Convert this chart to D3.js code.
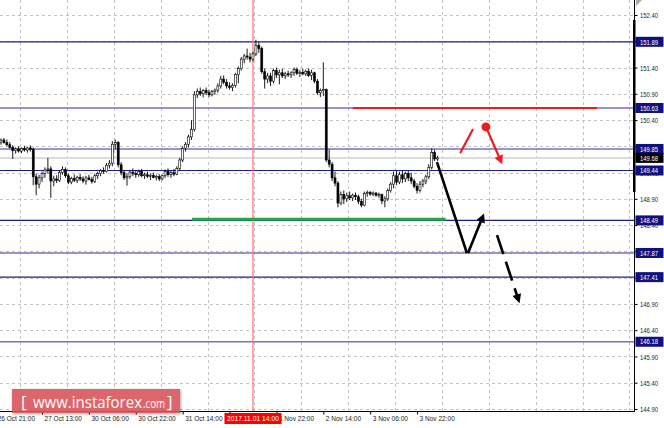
<!DOCTYPE html>
<html><head><meta charset="utf-8">
<script src="https://cdn.jsdelivr.net/npm/d3@7"></script>
<style>html,body{margin:0;padding:0;background:#fff;overflow:hidden}</style>
</head><body><svg id="c" width="664" height="428"></svg>
<script>
// ---------- DATA ----------
const opens = [149.98,150.02,149.97,149.93,149.88,149.82,149.85,149.81,149.86,149.83,
149.87,149.84,149.32,149.18,149.30,149.38,149.45,149.47,149.24,149.28,
149.25,149.40,149.46,149.34,149.22,149.29,149.25,149.31,149.28,149.24,
149.30,149.27,149.23,149.34,149.38,149.44,149.42,149.54,149.58,149.94,
149.97,149.55,149.40,149.30,149.33,149.41,149.38,149.36,149.42,149.34,
149.36,149.33,149.35,149.31,149.33,149.28,149.34,149.42,149.36,149.40,
149.37,149.48,149.64,149.86,149.94,150.08,150.22,150.88,150.94,150.90,
150.96,150.92,150.88,150.94,150.97,151.05,151.18,151.12,151.05,151.02,
151.06,151.27,151.38,151.56,151.62,151.60,151.56,151.66,151.82,151.76,
151.32,151.18,151.24,151.14,151.34,151.26,151.30,151.24,151.28,151.26,
151.30,151.36,151.29,151.31,151.28,151.33,151.25,151.30,151.14,150.92,
150.96,150.98,149.64,149.56,149.30,149.20,148.82,148.98,148.90,148.96,
148.92,148.97,148.94,148.85,148.78,149.00,149.02,148.99,149.01,148.97,
148.98,148.86,148.90,149.06,149.18,149.34,149.22,149.36,149.28,149.38,
149.30,149.24,149.14,149.06,149.18,149.24,149.32,149.50,149.78,149.66];
const highs = [150.05,150.06,150.03,149.98,149.92,149.88,149.90,149.88,149.91,149.89,
149.92,149.88,149.38,149.36,149.42,149.50,149.68,149.52,149.34,149.35,
149.45,149.52,149.50,149.38,149.32,149.36,149.34,149.37,149.33,149.34,
149.36,149.32,149.38,149.42,149.47,149.50,149.58,149.64,150.00,150.03,
150.00,149.60,149.45,149.38,149.45,149.48,149.44,149.46,149.47,149.40,
149.42,149.38,149.40,149.36,149.37,149.36,149.46,149.48,149.44,149.47,
149.52,149.68,149.90,149.98,150.12,150.40,150.95,151.00,151.02,150.99,
151.02,150.98,150.97,151.00,151.10,151.24,151.25,151.18,151.12,151.10,
151.30,151.42,151.60,151.66,151.76,151.68,151.70,151.93,151.88,151.80,
151.38,151.30,151.30,151.38,151.40,151.36,151.38,151.32,151.34,151.33,
151.40,151.40,151.35,151.38,151.36,151.38,151.36,151.32,151.18,151.00,
151.50,151.00,149.84,149.60,149.42,149.24,149.04,149.06,149.02,149.04,
149.00,149.02,148.98,148.90,149.04,149.06,149.05,149.04,149.03,149.02,
149.00,148.95,149.10,149.22,149.42,149.44,149.42,149.44,149.42,149.44,
149.40,149.28,149.20,149.24,149.28,149.36,149.56,149.86,149.84,149.72];
const lows = [149.93,149.95,149.90,149.86,149.66,149.76,149.78,149.77,149.80,149.78,
149.80,149.16,148.97,149.10,149.22,149.30,149.38,148.92,149.14,149.20,
149.22,149.36,149.30,149.18,149.18,149.22,149.20,149.24,149.20,149.17,
149.25,149.19,149.20,149.28,149.33,149.38,149.40,149.48,149.52,149.85,
149.50,149.35,149.26,149.15,149.28,149.33,149.30,149.32,149.31,149.28,
149.30,149.26,149.29,149.25,149.24,149.25,149.30,149.32,149.30,149.33,
149.35,149.44,149.60,149.80,149.88,150.02,150.18,150.82,150.86,150.83,
150.88,150.84,150.85,150.88,150.92,151.00,151.08,151.00,150.98,150.95,
151.02,151.10,151.34,151.48,151.55,151.50,151.52,151.62,151.68,151.28,
151.00,151.10,151.05,151.10,151.20,151.08,151.20,151.18,151.22,151.20,
151.24,151.26,151.22,151.25,151.24,151.22,151.16,151.10,150.88,150.84,
150.86,149.60,149.50,149.24,149.14,148.74,148.78,148.80,148.84,148.88,
148.86,148.88,148.80,148.74,148.76,148.94,148.96,148.95,148.94,148.92,
148.80,148.74,148.86,149.02,149.10,149.16,149.18,149.20,149.22,149.24,
149.18,149.10,149.00,149.02,149.12,149.18,149.28,149.46,149.62,149.62];
const closes = [150.02,149.97,149.93,149.88,149.82,149.85,149.81,149.86,149.83,149.87,
149.84,149.32,149.18,149.30,149.38,149.45,149.47,149.24,149.28,149.25,
149.40,149.46,149.34,149.22,149.29,149.25,149.31,149.28,149.24,149.30,
149.27,149.23,149.34,149.38,149.44,149.42,149.54,149.58,149.94,149.97,
149.55,149.40,149.30,149.33,149.41,149.38,149.36,149.42,149.34,149.36,
149.33,149.35,149.31,149.33,149.28,149.34,149.42,149.36,149.40,149.37,
149.48,149.64,149.86,149.94,150.08,150.22,150.88,150.94,150.90,150.96,
150.92,150.88,150.94,150.97,151.05,151.18,151.12,151.05,151.02,151.06,
151.27,151.38,151.56,151.62,151.60,151.56,151.66,151.82,151.76,151.32,
151.18,151.24,151.14,151.34,151.26,151.30,151.24,151.28,151.26,151.30,
151.36,151.29,151.31,151.28,151.33,151.25,151.30,151.14,150.92,150.96,
150.98,149.64,149.56,149.30,149.20,148.82,148.98,148.90,148.96,148.92,
148.97,148.94,148.85,148.78,149.00,149.02,148.99,149.01,148.97,148.98,
148.86,148.90,149.06,149.18,149.34,149.22,149.36,149.28,149.38,149.30,
149.24,149.14,149.06,149.18,149.24,149.32,149.50,149.78,149.66,149.68];

const priceTicks = [144.90,145.40,145.90,146.40,146.90,147.40,147.90,148.40,148.90,149.40,149.90,150.40,150.90,151.40,151.90,152.40];
const hiddenPriceLabels = [147.40,147.90];
const timeLabels = ["26 Oct 21:00","27 Oct 13:00","30 Oct 06:00","30 Oct 22:00","31 Oct 14:00","1 Nov 06:00","1 Nov 22:00","2 Nov 14:00","3 Nov 06:00","3 Nov 22:00"];
const timeBars = [-2,14,30,46,62,78,94,110,126,142];
const hiddenTimeLabels = ["1 Nov 06:00"];
const gridBars = [6.5,22.5,38.5,54.5,70.5,86.5,102.5,118.5,134.5,150.5,166.5,182.5,198.5,214.5];
const levelsDark = [151.89,149.44,148.49,147.41];
const levelsLight = [150.63,149.85,147.87,146.18];
const bidPrice = 149.68;
const markerBar = 86, markerLabel = "2017.11.01 14:00";
const redLevel = {price:150.63, from:120.1, to:203.4};
const greenLevel = {price:148.51, from:65.2, to:151.8};
const blackPath1 = [[148.8,149.60],[159.0,147.87]];
const blackArrow2 = [[159.4,147.87],[164.4,148.56]];
const blackDashed = [[169.3,148.21],[176.6,146.98]];
const redStroke = [[156.7,149.77],[161.1,150.23]];
const redArrow = [[165.5,150.27],[170.6,149.62]];

// ---------- CHART ----------
const svg = d3.select("#c");
const PW = 634, PH = 411;
const x = d3.scaleLinear().domain([0,149]).range([1, 1+149*2.93]);
const y = d3.scaleLinear().domain([144.90,152.40]).range([409,15]);
const defs = svg.append("defs");
defs.append("clipPath").attr("id","clip").append("rect").attr("x",0).attr("y",0).attr("width",PW).attr("height",PH);
const mk = (id,col,len,wid)=>defs.append("marker").attr("id",id).attr("markerUnits","userSpaceOnUse")
  .attr("viewBox","0 0 10 10").attr("refX",6).attr("refY",5).attr("markerWidth",len).attr("markerHeight",wid)
  .attr("orient","auto").append("path").attr("d","M0,0L10,5L0,10z").attr("fill",col);
mk("ab","#000",11,9); mk("ar","#ee1c1c",11,9);
const filt = defs.append("filter").attr("id","sh").attr("x","-10%").attr("y","-30%").attr("width","120%").attr("height","160%");
filt.append("feGaussianBlur").attr("in","SourceAlpha").attr("stdDeviation",1.5);
filt.append("feOffset").attr("dx",1).attr("dy",1).attr("result","b");
filt.append("feComponentTransfer").attr("in","b").attr("result","c").append("feFuncA").attr("type","linear").attr("slope",0.4);
const fm = filt.append("feMerge"); fm.append("feMergeNode").attr("in","c"); fm.append("feMergeNode").attr("in","SourceGraphic");

const g = svg.append("g").attr("clip-path","url(#clip)");
// grid
g.selectAll(".hg").data(priceTicks).join("line").attr("x1",0).attr("x2",PW)
  .attr("y1",d=>Math.round(y(d))+0.5).attr("y2",d=>Math.round(y(d))+0.5)
  .attr("stroke","#c4c4c4").attr("stroke-dasharray","3,3");
g.selectAll(".vg").data(gridBars).join("line").attr("y1",0).attr("y2",PH)
  .attr("x1",d=>Math.round(x(d))+0.5).attr("x2",d=>Math.round(x(d))+0.5)
  .attr("stroke","#c4c4c4").attr("stroke-dasharray","3,3");
// bid line
g.append("line").attr("x1",0).attr("x2",PW).attr("y1",y(bidPrice)).attr("y2",y(bidPrice))
  .attr("stroke","#dcdcdc").attr("stroke-width",2);
// levels
g.selectAll(".ld").data(levelsDark).join("line").attr("x1",0).attr("x2",PW)
  .attr("y1",d=>y(d)).attr("y2",d=>y(d)).attr("stroke","#1e1e86").attr("stroke-width",1.2);
g.selectAll(".ll").data(levelsLight).join("line").attr("x1",0).attr("x2",PW)
  .attr("y1",d=>y(d)).attr("y2",d=>y(d)).attr("stroke","#7373bd").attr("stroke-width",1.6);
// red vertical
g.append("line").attr("x1",x(markerBar)).attr("x2",x(markerBar)).attr("y1",0).attr("y2",PH)
  .attr("stroke","#ff7b7b").attr("stroke-width",1.3);
// candles
const bars = closes.map((c,i)=>({i,o:opens[i],h:highs[i],l:lows[i],c}));
const cg = g.append("g");
cg.selectAll(".w").data(bars).join("line").attr("x1",d=>x(d.i)).attr("x2",d=>x(d.i))
  .attr("y1",d=>y(d.h)).attr("y2",d=>y(d.l)).attr("stroke","#000").attr("stroke-width",0.9);
cg.selectAll(".b").data(bars).join("rect")
  .attr("x",d=>x(d.i)-1).attr("width",2)
  .attr("y",d=>y(Math.max(d.o,d.c))).attr("height",d=>Math.max(0.8,Math.abs(y(d.o)-y(d.c))))
  .attr("fill",d=>d.c>=d.o?"#fff":"#000").attr("stroke","#000").attr("stroke-width",0.6);
// green & red levels
g.append("line").attr("x1",x(greenLevel.from)).attr("x2",x(greenLevel.to))
  .attr("y1",y(greenLevel.price)).attr("y2",y(greenLevel.price)).attr("stroke","#22a845").attr("stroke-width",3);
g.append("line").attr("x1",x(redLevel.from)).attr("x2",x(redLevel.to))
  .attr("y1",y(redLevel.price)).attr("y2",y(redLevel.price)).attr("stroke","#ee1c1c").attr("stroke-width",2.2);
// arrows
const ln = d3.line().x(d=>x(d[0])).y(d=>y(d[1]));
g.append("path").attr("d",ln(blackPath1)).attr("stroke","#000").attr("stroke-width",2.6).attr("fill","none");
g.append("path").attr("d",ln(blackArrow2)).attr("stroke","#000").attr("stroke-width",2.6).attr("fill","none").attr("marker-end","url(#ab)");
g.append("path").attr("d",ln(blackDashed)).attr("stroke","#000").attr("stroke-width",2.6).attr("fill","none")
  .attr("stroke-dasharray","20,8").attr("marker-end","url(#ab)");
g.append("path").attr("d",ln(redStroke)).attr("stroke","#ee1c1c").attr("stroke-width",2.2).attr("fill","none");
g.append("path").attr("d",ln(redArrow)).attr("stroke","#ee1c1c").attr("stroke-width",2.2).attr("fill","none").attr("marker-end","url(#ar)");
g.append("circle").attr("cx",x(redArrow[0][0])).attr("cy",y(redArrow[0][1])).attr("r",4.5).attr("fill","#ee1c1c");

// axes frame
svg.append("line").attr("x1",PW+0.5).attr("x2",PW+0.5).attr("y1",0).attr("y2",PH).attr("stroke","#000");
svg.append("rect").attr("x",PW-1).attr("y",20).attr("width",2.5).attr("height",172).attr("fill","#000");
svg.append("line").attr("x1",0).attr("x2",PW+1).attr("y1",PH+0.5).attr("y2",PH+0.5).attr("stroke","#000");
svg.append("path").attr("d","M636,0L642,0L636,6z").attr("fill","#aaa");

const font = "'Liberation Sans', Arial, sans-serif";
// y axis
const ya = svg.append("g").attr("transform",`translate(${PW+0.5},0)`)
  .call(d3.axisRight(y).tickValues(priceTicks).tickSize(3).tickFormat(d3.format(".2f")));
ya.select(".domain").remove();
ya.selectAll("line").attr("stroke","#000");
ya.selectAll("text").attr("x",5.5).attr("font-family",font).attr("font-size",8).attr("fill","#222")
  .attr("textLength",18).attr("lengthAdjust","spacingAndGlyphs");
ya.selectAll(".tick").filter(d=>hiddenPriceLabels.includes(d)).select("text").remove();
// level boxes
const boxes = levelsDark.concat(levelsLight).map(p=>({p,fill:"#10107e"})).concat([{p:bidPrice,fill:"#000"}]);
const bg = svg.append("g");
bg.selectAll("rect").data(boxes).join("rect").attr("x",PW+1.5).attr("y",d=>y(d.p)-5).attr("width",28).attr("height",10).attr("fill",d=>d.fill);
bg.selectAll("text").data(boxes).join("text").attr("x",PW+6).attr("y",d=>y(d.p)).attr("dy","0.34em")
  .attr("font-family",font).attr("font-size",8).attr("fill","#fff").attr("textLength",18).attr("lengthAdjust","spacingAndGlyphs")
  .text(d=>d3.format(".2f")(d.p));
// x axis
const xa = svg.append("g").attr("transform",`translate(0,${PH+0.5})`)
  .call(d3.axisBottom(x).tickValues(timeBars).tickSize(3).tickFormat((d,i)=>timeLabels[i]));
xa.select(".domain").remove();
xa.selectAll("line").attr("stroke","#000");
xa.selectAll("text").attr("text-anchor","start").attr("x",2).attr("y",4).attr("dy","0.71em")
  .attr("font-family",font).attr("font-size",7.6).attr("fill","#222")
  .each(function(){const L=this.getComputedTextLength(); d3.select(this).attr("textLength",L*0.86).attr("lengthAdjust","spacingAndGlyphs");});
xa.selectAll("text").filter(function(){return hiddenTimeLabels.includes(this.textContent);}).remove();
// marker label
const mx = x(markerBar);
svg.append("rect").attr("x",mx-28.5).attr("y",PH+2).attr("width",57).attr("height",11).attr("fill","#ff0000");
svg.append("text").attr("x",mx).attr("y",PH+7.5).attr("dy","0.35em").attr("text-anchor","middle")
  .attr("font-family",font).attr("font-size",8).attr("fill","#fff").attr("textLength",52).attr("lengthAdjust","spacingAndGlyphs").text(markerLabel);

// watermark
const wm = svg.append("g");
wm.append("rect").attr("x",12).attr("y",389).attr("width",168).attr("height",24).attr("fill","#d9575c").attr("opacity",0.9).attr("filter","url(#sh)");
const wf = "'Open Sans', 'DejaVu Sans', sans-serif";
const wt = wm.append("text").attr("x",21).attr("y",408).attr("font-family",wf).attr("fill","#fff");
wt.append("tspan").attr("font-size",17).text("[");
wt.append("tspan").attr("x",33).attr("font-size",17).attr("textLength",109).attr("lengthAdjust","spacingAndGlyphs").text("www.instaforex");
wt.append("tspan").attr("x",143).attr("font-size",12).attr("textLength",22).attr("lengthAdjust","spacingAndGlyphs").text(".com");
wt.append("tspan").attr("x",167).attr("font-size",17).text("]");
</script></body></html>
